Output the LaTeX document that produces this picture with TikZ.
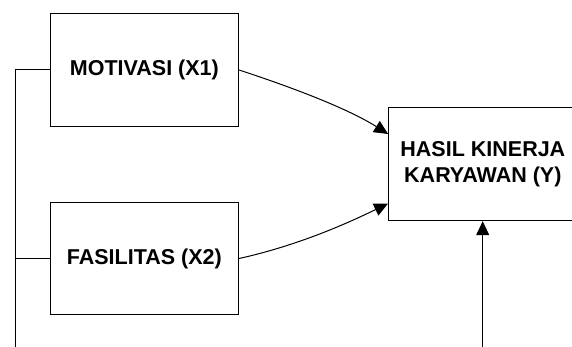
\documentclass[tikz,border=0pt]{standalone}
\usepackage{fontspec}
\setmainfont{Liberation Sans}
\usetikzlibrary{arrows.meta}
\begin{document}
\begin{tikzpicture}[x=1pt,y=-1pt,
  box/.style={draw=black,line width=1pt,rectangle,minimum width=188.5pt,minimum height=112.5pt,inner sep=0pt,
    font=\fontsize{21.5}{26.7}\selectfont\bfseries,align=center},
  conn/.style={line width=1pt},
  arr/.style={line width=1pt,-{Triangle[length=14pt,width=13pt]}}]
\path[clip,use as bounding box] (0,0) rectangle (572,347);
\fill[white] (0,0) rectangle (572,347);
\node[box] (m) at (144.35,70) {MOTIVASI (X1)};
\node[box] (f) at (144.35,258.5) {FASILITAS (X2)};
\node[box,minimum height=113pt] (h) at (482.85,164.2) {HASIL KINERJA\\KARYAWAN (Y)};
\coordinate (lt) at (15,70);
\coordinate (lb) at (15,347);
\coordinate (bb) at (482.7,347);
\draw[conn] (m.west) -- (lt) -- (lb);
\draw[conn] (f.west) -- (f.west -| lt);
\draw[arr] (m.east) .. controls (300,90) and (350,110) .. (h.west |- 0,134);
\draw[arr] (f.east) .. controls (300,245) and (350,222) .. (h.west |- 0,203.5);
\draw[arr] (bb) -- (h.south -| bb);
\end{tikzpicture}
\end{document}
